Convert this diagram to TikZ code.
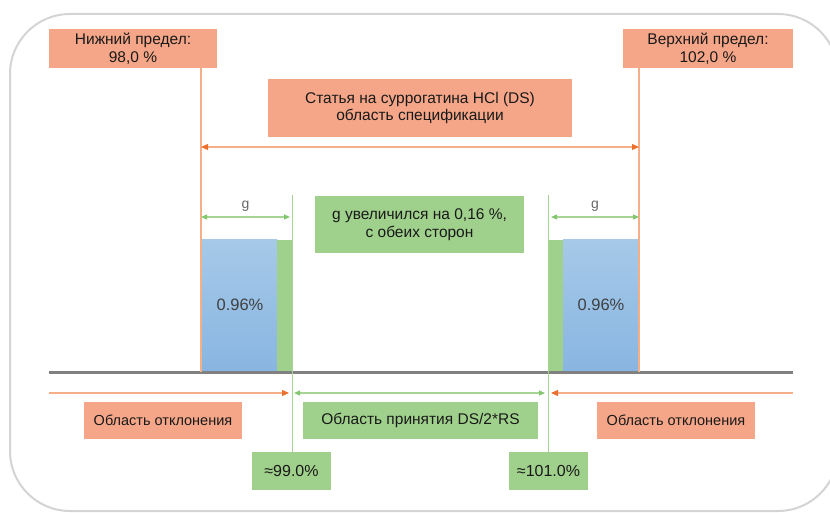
\documentclass[tikz,border=0pt]{standalone}
\usepackage{fontspec}
\setmainfont{Liberation Sans}
\usetikzlibrary{arrows.meta}

\definecolor{lachs}{RGB}{245,166,136}
\definecolor{gruen}{RGB}{160,209,140}
\definecolor{blauhell}{RGB}{166,201,232}
\definecolor{blaudunkel}{RGB}{136,181,225}
\definecolor{orangelinie}{RGB}{245,175,135}
\definecolor{orangespitze}{RGB}{236,112,45}
\definecolor{gruenlinie}{RGB}{165,212,148}
\definecolor{gruenspitze}{RGB}{130,198,110}
\definecolor{rahmen}{RGB}{212,212,212}

\begin{document}
\begin{tikzpicture}[x=1pt,y=-1pt,
    lachsbox/.style={fill=lachs, inner sep=0pt, align=center, text=black!90,
        font=\fontsize{15.5}{17.5}\selectfont},
    gruenbox/.style={fill=gruen, inner sep=0pt, align=center, text=black!90,
        font=\fontsize{15.5}{17.5}\selectfont},
    wertbox/.style={gruenbox, font=\fontsize{16}{18}\selectfont},
    pfeilo/.style={orangelinie, line width=1.2pt,
        arrows={-Triangle[length=7pt,width=6pt,color=orangespitze]}},
    pfeilg/.style={gruenlinie, line width=1.2pt,
        arrows={Triangle[length=6pt,width=5pt,color=gruenspitze]-Triangle[length=6pt,width=5pt,color=gruenspitze]}}]
    \useasboundingbox (0,0) rectangle (830,513);

    % Rahmen
    \begin{scope}
        \clip (0,0) rectangle (830,513);
        \draw[rahmen, line width=2pt, rounded corners=60pt] (10,14) rectangle (838,511);
    \end{scope}

    % Grenzen
    \def\xu{201}   % untere Grenze
    \def\xo{639}   % obere Grenze
    \def\xa{292}   % Annahme links
    \def\xb{548}   % Annahme rechts
    \def\yb{372}   % Grundlinie

    % Kästen oben
    \node[lachsbox, minimum width=168pt, minimum height=39pt] (unten) at (133,48.5) {Нижний предел:\\98,0 \%};
    \node[lachsbox, minimum width=170pt, minimum height=39pt] (oben) at (708,48.5) {Верхний предел:\\102,0 \%};
    \node[lachsbox, minimum width=304pt, minimum height=58pt] (spez) at (420,108) {Статья на суррогатина HCl (DS)\\область спецификации};
    \node[gruenbox, minimum width=209pt, minimum height=57pt] (gplus) at (419.5,224.5) {g увеличился на 0,16 \%,\\с обеих сторон};

    % Balken
    \shade[top color=blauhell, bottom color=blaudunkel] (\xu,240) rectangle (277,\yb);
    \fill[gruen] (277,240) rectangle (\xa,\yb);
    \fill[gruen] (\xb,240) rectangle (563,\yb);
    \shade[top color=blauhell, bottom color=blaudunkel] (563,240) rectangle (\xo,\yb);
    \node[text=black!75, font=\fontsize{16.5}{18}\selectfont] (bl) at (240,305) {0.96\%};
    \node[text=black!75, font=\fontsize{16.5}{18}\selectfont] (br) at (601,305) {0.96\%};

    % Grundlinie
    \coordinate (gl) at (49,\yb);
    \coordinate (gr) at (793,\yb);
    \draw[black!50, line width=3pt] (gl) -- (gr);

    % Grenzlinien
    \coordinate (fu) at (\xu,\yb);
    \coordinate (fo) at (\xo,\yb);
    \draw[orangelinie, line width=1.5pt] (unten.south -| fu) -- (fu);
    \draw[orangelinie, line width=1.5pt] (oben.south -| fo) -- (fo);

    % Spezifikation
    \coordinate (su) at (\xu,147);
    \coordinate (so) at (\xo,147);
    \draw[pfeilo, arrows={Triangle[length=7pt,width=6pt,color=orangespitze]-Triangle[length=7pt,width=6pt,color=orangespitze]}] (su) -- (so);

    % Kästen unten
    \node[lachsbox, minimum width=158pt, minimum height=37pt, font=\fontsize{14.5}{17}\selectfont] (ablinks) at (163,420.5) {Область отклонения};
    \node[gruenbox, minimum width=235pt, minimum height=37pt] (annahme) at (420.5,420.5) {Область принятия DS/2*RS};
    \node[lachsbox, minimum width=158pt, minimum height=37pt, font=\fontsize{14.5}{17}\selectfont] (abrechts) at (676,420.5) {Область отклонения};
    \node[wertbox, minimum width=79pt, minimum height=38pt] (w99) at (291.5,471) {≈99.0\%};
    \node[wertbox, minimum width=79pt, minimum height=38pt] (w101) at (548.5,471) {≈101.0\%};

    % g Bemaßung
    \coordinate (ga) at (\xa,195);
    \coordinate (gb) at (\xb,195);
    \draw[gruenlinie, line width=1pt] (ga) -- (w99.north -| ga);
    \draw[gruenlinie, line width=1pt] (gb) -- (w101.north -| gb);
    \draw[pfeilg] (\xu,217) -- node[above=2pt, text=black!60, font=\fontsize{14}{16}\selectfont] (g1) {g} (\xa-2,217);
    \draw[pfeilg] (\xb+3,217) -- node[above=2pt, text=black!60, font=\fontsize{14}{16}\selectfont] (g2) {g} (\xo,217);

    % Bereiche
    \coordinate (rl) at (49,393);
    \coordinate (rr) at (793,393);
    \draw[pfeilo] (rl) -- (\xa-3,393);
    \draw[pfeilg] (\xa+2,393) -- (\xb-3,393);
    \draw[pfeilo] (rr) -- (\xb+3,393);
\end{tikzpicture}
\end{document}
